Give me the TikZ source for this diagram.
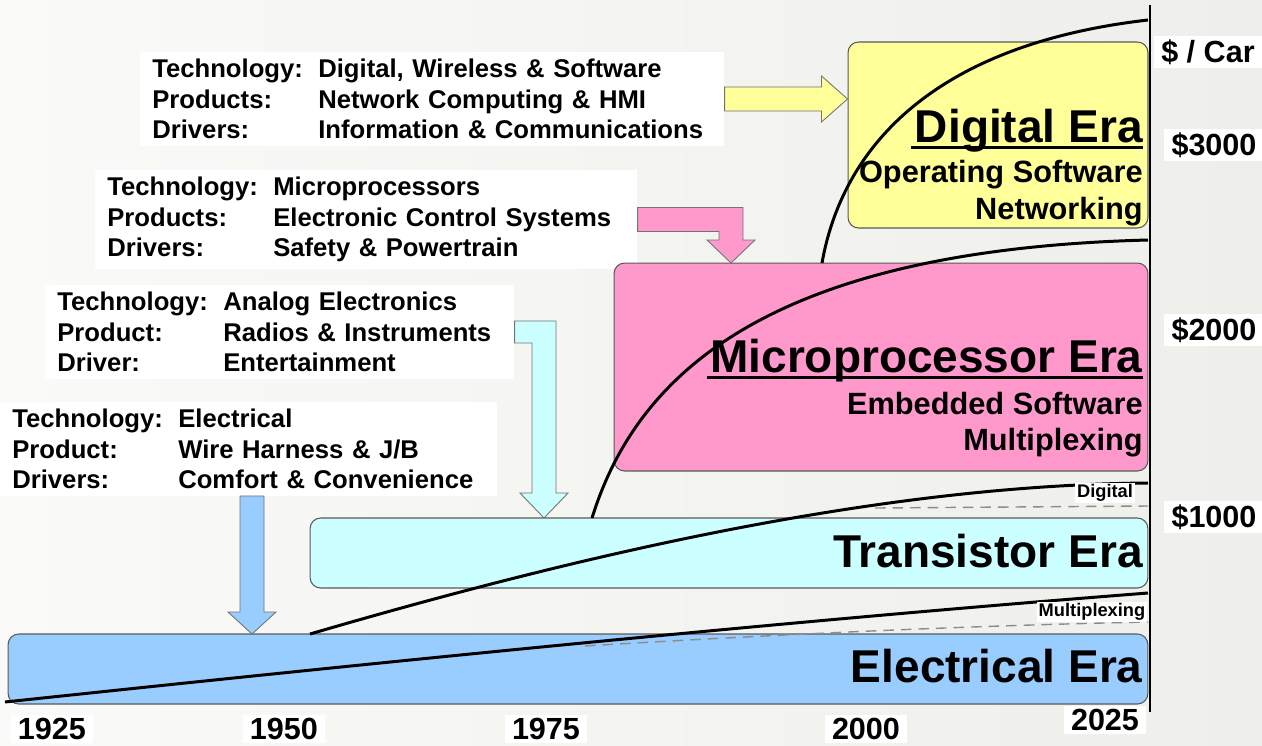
\documentclass[tikz,border=0pt]{standalone}
\usepackage{fontspec}
\setmainfont{Liberation Sans}
\usepackage{xcolor}
\usepackage{tikz}
\usetikzlibrary{calc}

\definecolor{elecblue}{HTML}{99CCFF}
\definecolor{transcyan}{HTML}{CCFFFF}
\definecolor{micropink}{HTML}{FF99CC}
\definecolor{digyellow}{HTML}{FFFF99}
\definecolor{bgleft}{RGB}{250,250,248}
\definecolor{bgright}{RGB}{238,238,234}

% one line of a technology/products/drivers block
\newcommand{\inforow}[2]{\makebox[3.32cm][l]{#1}#2}
% heavy underline for the era titles
\newcommand{\thickul}[1]{\setbox0\hbox{#1}\rlap{\hspace{-2pt}\rule[-4.2pt]{\dimexpr\wd0+2pt\relax}{1.7pt}}\box0}

\begin{document}
\begin{tikzpicture}[x=0.02cm, y=-0.02cm,
	info/.style={fill=white, anchor=north west, align=left, inner xsep=0.24cm, inner ysep=0.14cm,
		font=\fontsize{14.6}{17.2}\selectfont\bfseries},
	erabox/.style={draw=black!65, line width=0.6pt, rounded corners=6pt},
	eratitle/.style={anchor=base east, inner sep=0pt, font=\fontsize{26.2}{30}\selectfont\bfseries},
	erasub/.style={anchor=base east, inner sep=0pt, font=\fontsize{17.5}{21}\selectfont\bfseries},
	fatarrow/.style={draw=black!55, line width=0.5pt},
	trend/.style={line width=1.7pt},
	split/.style={draw=black!45, line width=0.8pt, dash pattern=on 6pt off 4pt},
	tag/.style={fill=white, inner sep=1pt, font=\fontsize{10.4}{12}\selectfont\bfseries},
	axislabel/.style={fill=white, inner xsep=4pt, inner ysep=2pt, font=\fontsize{17.4}{20}\selectfont\bfseries}]
	\useasboundingbox (0,0) rectangle (1262,745);
	\shade[left color=bgleft, right color=bgright] (0,0) rectangle (1262,745);
	%
	% what drove each era
	\node[info, text width=11.2cm] (digInfo) at (140,52)
		{\inforow{Technology:}{Digital, Wireless \& Software}\\
		 \inforow{Products:}{Network Computing \& HMI}\\
		 \inforow{Drivers:}{Information \& Communications}};
	\node[info, text width=10.36cm] (microInfo) at (95,170)
		{\inforow{Technology:}{Microprocessors}\\
		 \inforow{Products:}{Electronic Control Systems}\\
		 \inforow{Drivers:}{Safety \& Powertrain}};
	\node[info, text width=8.9cm] (analogInfo) at (45,285)
		{\inforow{Technology:}{Analog Electronics}\\
		 \inforow{Product:}{Radios \& Instruments}\\
		 \inforow{Driver:}{Entertainment}};
	\node[info, text width=9.46cm] (elecInfo) at (0,402)
		{\inforow{Technology:}{Electrical}\\
		 \inforow{Product:}{Wire Harness \& J/B}\\
		 \inforow{Drivers:}{Comfort \& Convenience}};
	%
	% era bands
	\node[erabox, fill=elecblue, minimum width=22.8cm, minimum height=1.4cm] (elecBox) at (578,669) {};
	\node[erabox, fill=transcyan, minimum width=16.76cm, minimum height=1.4cm] (transBox) at (729,553) {};
	\node[erabox, fill=micropink, minimum width=10.68cm, minimum height=4.16cm] (microBox) at (881,367) {};
	\node[erabox, fill=digyellow, minimum width=6cm, minimum height=3.72cm] (digBox) at (998,135) {};
	%
	% block arrows
	\coordinate (yelTip) at (digBox.west |- digInfo.east);
	\coordinate (pinkTip) at (731,263);
	\coordinate (cyanTip) at (544,518);
	\coordinate (blueTip) at (252,634);
	\coordinate (blueRoot) at (blueTip |- elecInfo.south);
	\filldraw[fatarrow, fill=digyellow] ($(digInfo.east)+(0,-12)$) -- ($(yelTip)+(-26,-12)$) -- ++(0,-11)
		-- (yelTip) -- ++(-26,23) -- ++(0,-11) -- ($(digInfo.east)+(0,12)$) -- cycle;
	\filldraw[fatarrow, fill=micropink] ($(microInfo.east)+(0,-12)$) -| ($(pinkTip)+(12,-23)$) -- ++(12,0)
		-- (pinkTip) -- ++(-24,-23) -- ++(12,0) |- ($(microInfo.east)+(0,12)$) -- cycle;
	\filldraw[fatarrow, fill=transcyan] ($(analogInfo.east)+(0,-11)$) -| ($(cyanTip)+(12,-25)$) -- ++(12,0)
		-- (cyanTip) -- ++(-24,-25) -- ++(12,0) |- ($(analogInfo.east)+(0,11)$) -- cycle;
	\filldraw[fatarrow, fill=elecblue] ($(blueRoot)+(-12,0)$) -- ($(blueTip)+(-12,-22)$) -- ++(-12,0)
		-- (blueTip) -- ++(24,-22) -- ++(-12,0) -- ($(blueRoot)+(12,0)$) -- cycle;
	%
	% content per car
	\coordinate (elecStart) at (5,702);
	\coordinate (transStart) at (310,634);
	\coordinate (microStart) at (592,518);
	\coordinate (digStart) at (822,263);
	\draw[trend] (elecStart) .. controls (400,660) and (800,620) .. (1148,593);
	\draw[trend] (transStart) .. controls (580,555) and (880,485) .. (1148,483);
	\draw[trend] (microStart) .. controls (635,380) and (760,250) .. (1148,240);
	\draw[trend] (digStart) .. controls (842,150) and (930,45) .. (1148,20);
	\draw[split] (585,646) .. controls (750,636) and (950,626) .. (1148,622);
	\draw[split] (875,508) -- (1148,506);
	\node[tag] (digTag) at (1105,493) {Digital};
	\node[tag] (muxTag) at (1092,612) {Multiplexing};
	%
	% era names
	\node[eratitle] (elecTitle) at (1143,682) {Electrical Era};
	\node[eratitle] (transTitle) at (1143,567) {Transistor Era};
	\node[eratitle] (microTitle) at (1143,372) {\thickul{Microprocessor Era}};
	\node[erasub] (microSubA) at (1143,414) {Embedded Software};
	\node[erasub] (microSubB) at (1143,450) {Multiplexing};
	\node[eratitle] (digTitle) at (1143,142) {\thickul{Digital Era}};
	\node[erasub] (digSubA) at (1143,182) {Operating Software};
	\node[erasub] (digSubB) at (1143,219) {Networking};
	%
	% axes
	\coordinate (axisTop) at (1150,5);
	\coordinate (axisBot) at (1150,712);
	\draw[line width=1.2pt] (axisTop) -- (axisBot);
	\node[axislabel] (perCar) at (1208,52) {\$ / Car};
	\node[axislabel] (usdC) at (1214,145) {\$3000};
	\node[axislabel] (usdB) at (1214,330) {\$2000};
	\node[axislabel] (usdA) at (1214,517) {\$1000};
	\node[axislabel] (yrA) at (52,729) {1925};
	\node[axislabel] (yrB) at (284,729) {1950};
	\node[axislabel] (yrC) at (546,729) {1975};
	\node[axislabel] (yrD) at (866,729) {2000};
	\node[axislabel] (yrE) at (1105,720) {2025};
\end{tikzpicture}
\end{document}
